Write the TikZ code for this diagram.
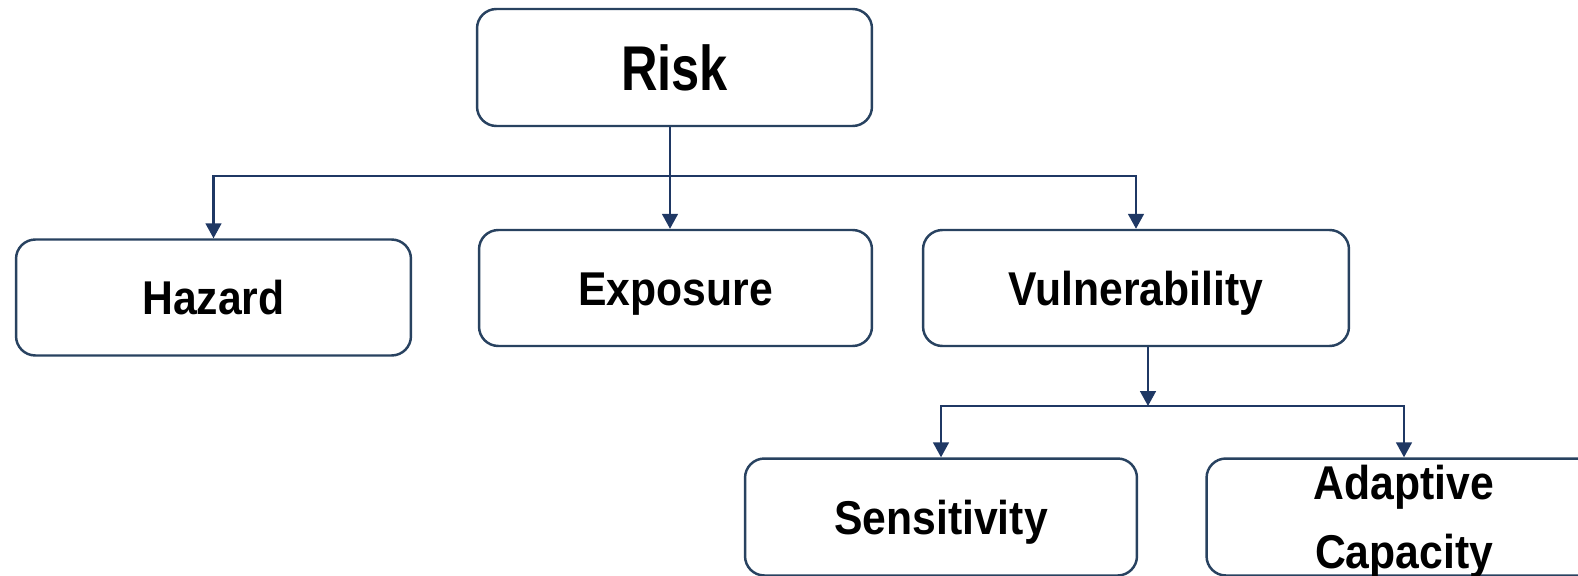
\documentclass[tikz,border=0pt]{standalone}
\usepackage{fontspec}
\setmainfont{Liberation Sans}[FakeStretch=0.9]
\newfontfamily\riskfont{Liberation Sans}[FakeStretch=0.8]
\usetikzlibrary{arrows.meta, positioning, calc}

\begin{document}
\begin{tikzpicture}[x=0.02cm, y=-0.02cm,
	box/.style={draw=boxcol, line width=1.4pt, rounded corners=11pt, fill=white,
		minimum width=7.9cm, minimum height=2.32cm, align=center, inner sep=0pt,
		text height=19.4pt, text depth=0pt,
		font=\bfseries\fontsize{27}{39}\selectfont},
	conn/.style={draw=linecol, line width=1.15pt, -{Triangle[width=9pt,length=8.5pt]}},
	bothconn/.style={conn, {Triangle[width=9pt,length=8.5pt]}-{Triangle[width=9pt,length=8.5pt]}}]
	
	% Colori
	\definecolor{boxcol}{RGB}{40,66,96}
	\definecolor{linecol}{RGB}{31,56,100}
	
	\useasboundingbox (0,0) rectangle (1578,575);
	\clip (0,0) rectangle (1578,575);
	
	% Nodo principale
	\node[box, minimum height=2.34cm, text height=25.9pt, font=\riskfont\bfseries\fontsize{36}{40}\selectfont] (risk) at (674.5,67.5) {Risk};
	
	% Componenti del rischio
	\node[box] (hazard) at (213.5,297.5) {Hazard};
	\node[box, minimum width=7.86cm] (exposure) at (675.5,288) {Exposure};
	\node[box, minimum width=8.52cm] (vuln) at (1136,288) {Vulnerability};
	
	% Componenti della vulnerabilita
	\node[box, minimum width=7.84cm, minimum height=2.34cm] (sens) at (941,517) {Sensitivity};
	\node[box, minimum height=2.34cm, text height=58.4pt] (adapt) at (1404,517) {Adaptive\\Capacity};
	
	% Collegamenti
	\coordinate (topbar) at (670,176);
	\draw[conn] (risk.south -| topbar) -- (exposure.north -| topbar);
	\draw[bothconn] (hazard.north) |- (topbar) -| (vuln.north);
	
	\coordinate (lowbar) at (1148,406);
	\draw[conn] (vuln.south -| lowbar) -- (lowbar);
	\draw[bothconn] (sens.north) |- (lowbar) -| (adapt.north);
	
\end{tikzpicture}
\end{document}
